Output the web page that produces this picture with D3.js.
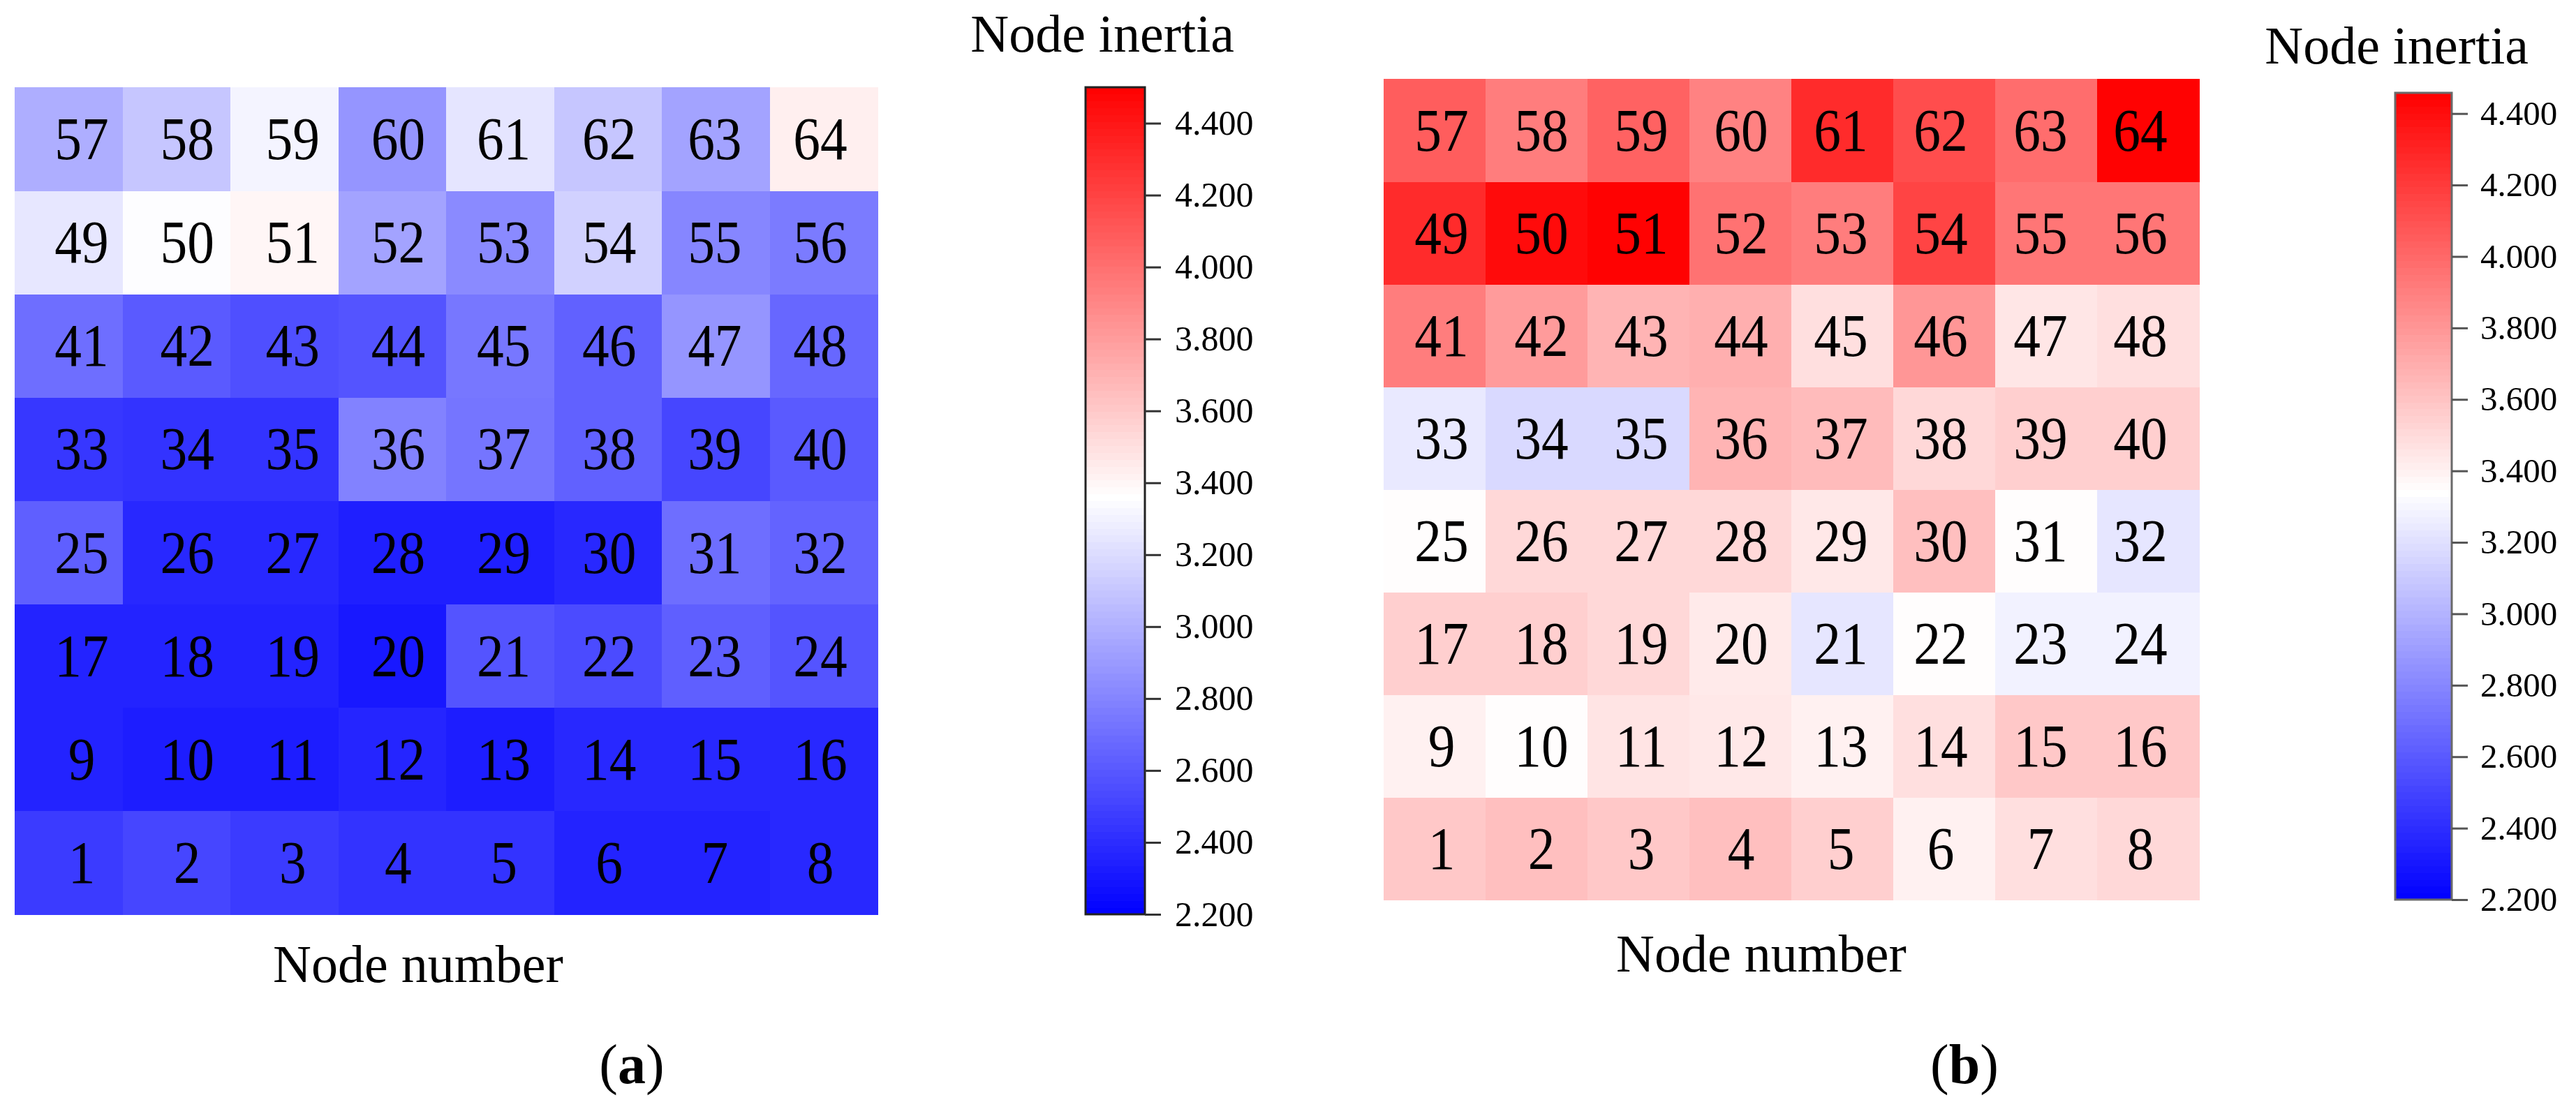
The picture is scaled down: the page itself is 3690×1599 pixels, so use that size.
<!DOCTYPE html>
<html>
<head>
<meta charset="utf-8">
<script src="https://cdn.jsdelivr.net/npm/d3@7"></script>
<style>
  html, body { margin: 0; padding: 0; background: #fff; }
  svg { display: block; }
  text { font-family: "Liberation Serif", "Times New Roman", serif; fill: #000; }
</style>
</head>
<body>
<svg id="chart" width="3690" height="1599"></svg>
<script>
// ---------------- DATA ----------------
const columns = [1, 2, 3, 4, 5, 6, 7, 8];      // grid column index
const rows = [1, 2, 3, 4, 5, 6, 7, 8];         // grid row index (1 = bottom)
// node inertia per node number 1..64 (row-major from bottom-left)
const inertiaA = [
  2.47, 2.52, 2.47, 2.43, 2.43, 2.36, 2.36, 2.38,
  2.36, 2.33, 2.33, 2.37, 2.33, 2.38, 2.38, 2.38,
  2.36, 2.36, 2.36, 2.31, 2.58, 2.54, 2.63, 2.58,
  2.63, 2.38, 2.38, 2.34, 2.34, 2.38, 2.70, 2.65,
  2.45, 2.43, 2.43, 2.79, 2.73, 2.64, 2.52, 2.61,
  2.70, 2.61, 2.56, 2.58, 2.74, 2.64, 2.88, 2.67,
  3.25, 3.35, 3.40, 2.94, 2.83, 3.15, 2.81, 2.76,
  2.99, 3.10, 3.31, 2.88, 3.24, 3.10, 2.94, 3.43
];
const inertiaB = [
  3.58, 3.62, 3.58, 3.62, 3.55, 3.40, 3.48, 3.51,
  3.40, 3.35, 3.46, 3.44, 3.40, 3.48, 3.58, 3.58,
  3.55, 3.55, 3.51, 3.43, 3.23, 3.35, 3.28, 3.28,
  3.35, 3.51, 3.51, 3.51, 3.44, 3.62, 3.35, 3.23,
  3.24, 3.17, 3.17, 3.67, 3.64, 3.51, 3.55, 3.55,
  3.91, 3.78, 3.67, 3.69, 3.48, 3.80, 3.45, 3.48,
  4.27, 4.41, 4.45, 3.96, 3.91, 4.16, 3.94, 3.94,
  4.05, 3.91, 4.03, 3.89, 4.27, 4.12, 3.98, 4.45
];
const colorbarTicks = [2.2, 2.4, 2.6, 2.8, 3.0, 3.2, 3.4, 3.6, 3.8, 4.0, 4.2, 4.4];
const colorDomainA = [2.2, 3.36, 4.5];
const colorDomainB = [2.2, 3.34, 4.458];
const colorRange = ["#0000ff", "#ffffff", "#ff0000"];
const titleText = "Node inertia";
const xTitleText = "Node number";
const panelLabels = ["a", "b"];

// ---------------- LAYOUT ----------------
const svg = d3.select("#chart");
svg.append("rect").attr("width", 3690).attr("height", 1599).attr("fill", "#fff");

const panels = [
  {
    values: inertiaA, colorDomain: colorDomainA,
    grid: { x0: 21, x1: 1257, y0: 125, y1: 1310 },
    labelX: [117, 1175],
    bar: { x0: 1555, x1: 1640, y0: 125, y1: 1310, stroke: "#222", tick: "#333", pad: 20, fs: 50 },
    title: { x: 1768, y: 74 },
    xTitle: { x: 599, y: 1407 },
    panel: { x: 905, y: 1552 }
  },
  {
    values: inertiaB, colorDomain: colorDomainB,
    grid: { x0: 1982, x1: 3150, y0: 113, y1: 1289 },
    labelX: [2065, 3066],
    bar: { x0: 3431, x1: 3512, y0: 133, y1: 1289, stroke: "#6a6a6a", tick: "#555", pad: 18, fs: 49 },
    title: { x: 3622, y: 91 },
    xTitle: { x: 2523, y: 1392 },
    panel: { x: 2814, y: 1552 }
  }
];

panels.forEach((p, pi) => {
  const color = d3.scaleLinear().domain(p.colorDomain).range(colorRange).clamp(true);
  const x = d3.scaleBand().domain(columns).range([p.grid.x0, p.grid.x1]).padding(0);
  const y = d3.scaleBand().domain(rows).range([p.grid.y1, p.grid.y0]).padding(0);
  const xl = d3.scalePoint().domain(columns).range(p.labelX);

  const cells = p.values.map((v, i) => ({
    node: i + 1,
    col: columns[i % 8],
    row: rows[Math.floor(i / 8)],
    value: v
  }));

  const g = svg.append("g");
  g.selectAll("rect.cell").data(cells).enter().append("rect")
    .attr("class", "cell")
    .attr("x", d => x(d.col))
    .attr("y", d => y(d.row))
    .attr("width", x.bandwidth() + 0.5)
    .attr("height", y.bandwidth() + 0.5)
    .attr("fill", d => color(d.value))
    .attr("shape-rendering", "crispEdges");

  g.selectAll("text.lbl").data(cells).enter().append("text")
    .attr("class", "lbl")
    .attr("transform", d => `translate(${xl(d.col)},${y(d.row) + y.bandwidth() / 2 + 29}) scale(0.9,1)`)
    .attr("text-anchor", "middle")
    .attr("font-size", 86)
    .text(d => d.node);

  // colorbar
  const cb = p.bar;
  const cDom = [p.colorDomain[0], p.colorDomain[2]];
  const cy = d3.scaleLinear().domain(cDom).range([cb.y1, cb.y0]);
  const steps = 120;
  const band = d3.range(steps).map(k => {
    const a = cDom[0] + (cDom[1] - cDom[0]) * k / steps;
    const b = cDom[0] + (cDom[1] - cDom[0]) * (k + 1) / steps;
    return { a, b };
  });
  const cg = svg.append("g");
  cg.selectAll("rect.band").data(band).enter().append("rect")
    .attr("x", cb.x0)
    .attr("width", cb.x1 - cb.x0)
    .attr("y", d => cy(d.b))
    .attr("height", d => cy(d.a) - cy(d.b) + 0.6)
    .attr("fill", d => color((d.a + d.b) / 2))
    .attr("shape-rendering", "crispEdges");
  cg.append("rect")
    .attr("x", cb.x0).attr("y", cb.y0)
    .attr("width", cb.x1 - cb.x0).attr("height", cb.y1 - cb.y0)
    .attr("fill", "none").attr("stroke", cb.stroke).attr("stroke-width", 3);

  const axis = d3.axisRight(cy).tickValues(colorbarTicks)
    .tickFormat(d3.format(".3f")).tickSize(23).tickPadding(cb.pad);
  const ag = svg.append("g").attr("transform", `translate(${cb.x1},0)`).call(axis);
  ag.select(".domain").remove();
  ag.selectAll(".tick line").attr("stroke", cb.tick).attr("stroke-width", 3);
  ag.selectAll(".tick text")
    .attr("font-size", cb.fs)
    .attr("font-family", "Liberation Serif, serif")
    .attr("fill", "#222");

  svg.append("text")
    .attr("x", p.title.x).attr("y", p.title.y)
    .attr("text-anchor", "end")
    .attr("font-size", 76)
    .text(titleText);

  svg.append("text")
    .attr("x", p.xTitle.x).attr("y", p.xTitle.y)
    .attr("text-anchor", "middle")
    .attr("font-size", 76)
    .text(xTitleText);

  const pl = svg.append("text")
    .attr("x", p.panel.x).attr("y", p.panel.y)
    .attr("text-anchor", "middle")
    .attr("font-size", 80);
  pl.append("tspan").text("(");
  pl.append("tspan").attr("font-weight", "bold").text(panelLabels[pi]);
  pl.append("tspan").text(")");
});
</script>
</body>
</html>
